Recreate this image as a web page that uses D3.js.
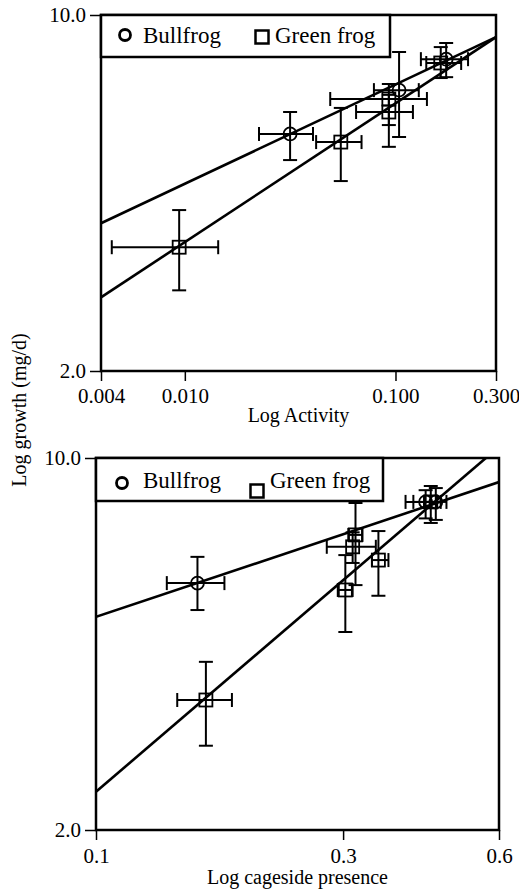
<!DOCTYPE html>
<html>
<head>
<meta charset="utf-8">
<script src="https://cdn.jsdelivr.net/npm/d3@7"></script>
<style>
  body { margin: 0; background: #fff; }
  svg text { font-family: "Liberation Serif", "Times New Roman", Times, serif; fill: #000; }
</style>
</head>
<body>
<svg></svg>
<script>
const width = 519,
  height = 892;

// Activity panel (top): mean with low/high error limits
const activityBullfrog = [
  { x: 0.0316, xlo: 0.0225, xhi: 0.0406, y: 5.84, ylo: 5.19, yhi: 6.45 },
  { x: 0.104, xlo: 0.079, xhi: 0.129, y: 7.12, ylo: 5.76, yhi: 8.46 },
  { x: 0.174, xlo: 0.132, xhi: 0.221, y: 8.19, ylo: 7.55, yhi: 8.81 }
];
const activityGreenfrog = [
  { x: 0.0094, xlo: 0.0045, xhi: 0.0144, y: 3.50, ylo: 2.88, yhi: 4.14 },
  { x: 0.055, xlo: 0.042, xhi: 0.069, y: 5.63, ylo: 4.72, yhi: 6.57 },
  { x: 0.093, xlo: 0.049, xhi: 0.141, y: 6.84, ylo: 6.08, yhi: 7.32 },
  { x: 0.093, xlo: 0.065, xhi: 0.121, y: 6.45, ylo: 5.51, yhi: 6.97 },
  { x: 0.164, xlo: 0.140, xhi: 0.205, y: 8.05, ylo: 7.52, yhi: 8.65 }
];
// fitted lines, as end points
const activityBullfrogFit = [[0.004, 3.90], [0.3, 9.05]];
const activityGreenfrogFit = [[0.004, 2.79], [0.3, 9.05]];

// Cageside presence panel (bottom)
const cagesideBullfrog = [
  { x: 0.157, xlo: 0.137, xhi: 0.177, y: 5.82, ylo: 5.18, yhi: 6.52 },
  { x: 0.433, xlo: 0.410, xhi: 0.455, y: 8.27, ylo: 7.70, yhi: 8.70 },
  { x: 0.453, xlo: 0.430, xhi: 0.475, y: 8.27, ylo: 7.65, yhi: 8.78 }
];
const cagesideGreenfrog = [
  { x: 0.163, xlo: 0.1435, xhi: 0.183, y: 3.51, ylo: 2.88, yhi: 4.14 },
  { x: 0.303, xlo: 0.293, xhi: 0.313, y: 5.65, ylo: 4.71, yhi: 6.57 },
  { x: 0.317, xlo: 0.307, xhi: 0.327, y: 7.17, ylo: 5.77, yhi: 8.23 },
  { x: 0.313, xlo: 0.279, xhi: 0.347, y: 6.81, ylo: 6.35, yhi: 7.25 },
  { x: 0.351, xlo: 0.341, xhi: 0.367, y: 6.43, ylo: 5.51, yhi: 7.29 },
  { x: 0.443, xlo: 0.396, xhi: 0.463, y: 8.27, ylo: 7.55, yhi: 8.86 }
];
const cagesideBullfrogFit = [[0.1, 5.03], [0.6, 9.01]];
const cagesideGreenfrogFit = [[0.1, 2.36], [0.566, 10.0]];

// axis ticks
const activityTicks = [0.004, 0.01, 0.1, 0.3];
const cagesideTicks = [0.1, 0.3, 0.6];
const growthTicks = [2, 10];

const serif = "'Liberation Serif', 'Times New Roman', serif";

const svg = d3.select("svg")
  .attr("width", width)
  .attr("height", height);

const panels = [
  {
    left: 101, right: 496, top: 15, bottom: 371,
    xDomain: [0.004, 0.3], xTicks: activityTicks, xFormat: d3.format(".3f"),
    xLabel: "Log Activity", xLabelY: 422, tickLabelY: 403,
    bull: activityBullfrog, green: activityGreenfrog,
    bullFit: activityBullfrogFit, greenFit: activityGreenfrogFit,
    legend: { w: 289, h: 42, cx: 24, cy: 20, tx: 42, ty: 28, sx: 161, sy: 22 }
  },
  {
    left: 96, right: 499, top: 458, bottom: 830,
    xDomain: [0.1, 0.6], xTicks: cagesideTicks, xFormat: d3.format(".1f"),
    xLabel: "Log cageside presence", xLabelY: 884, tickLabelY: 863,
    bull: cagesideBullfrog, green: cagesideGreenfrog,
    bullFit: cagesideBullfrogFit, greenFit: cagesideGreenfrogFit,
    legend: { w: 287, h: 43, cx: 26, cy: 25, tx: 47, ty: 30, sx: 161, sy: 33 }
  }
];

panels.forEach((p, pi) => {
  const x = d3.scaleLog().domain(p.xDomain).range([p.left, p.right]);
  const y = d3.scaleLog().domain([2, 10]).range([p.bottom, p.top]);

  const g = svg.append("g");

  // clip for the fitted lines
  const clipId = "clip" + pi;
  svg.append("clipPath").attr("id", clipId)
    .append("rect")
    .attr("x", p.left).attr("y", p.top)
    .attr("width", p.right - p.left).attr("height", p.bottom - p.top);

  // x axis
  const xAxis = g.append("g")
    .attr("transform", "translate(0," + p.bottom + ")")
    .call(d3.axisBottom(x).tickValues(p.xTicks).tickFormat(p.xFormat).tickSize(10).tickPadding(6));
  xAxis.attr("font-family", null);
  xAxis.select(".domain").remove();
  xAxis.selectAll("line").attr("stroke", "#000").attr("stroke-width", 1.5);
  xAxis.selectAll("text")
    .attr("y", null).attr("dy", null)
    .attr("transform", "translate(0," + (p.tickLabelY - p.bottom) + ")")
    .style("font-size", "21px")
    .style("font-family", serif);

  // y axis
  const yAxis = g.append("g")
    .attr("transform", "translate(" + p.left + ",0)")
    .call(d3.axisLeft(y).tickValues(growthTicks).tickFormat(d3.format(".1f")).tickSize(11).tickPadding(4));
  yAxis.attr("font-family", null);
  yAxis.select(".domain").remove();
  yAxis.selectAll("line").attr("stroke", "#000").attr("stroke-width", 1.5);
  yAxis.selectAll("text")
    .style("font-size", "21px")
    .style("font-family", serif);

  // frame
  g.append("rect")
    .attr("x", p.left).attr("y", p.top)
    .attr("width", p.right - p.left).attr("height", p.bottom - p.top)
    .attr("fill", "none").attr("stroke", "#000").attr("stroke-width", 2.5);

  g.append("text")
    .attr("x", (p.left + p.right) / 2)
    .attr("y", p.xLabelY)
    .attr("text-anchor", "middle")
    .style("font-size", "20px")
    .style("font-family", serif)
    .text(p.xLabel);

  // error bars
  const cap = 7;
  const errs = g.append("g").attr("stroke", "#000").attr("stroke-width", 2).attr("fill", "none");
  p.bull.concat(p.green).forEach(d => {
    const cx = x(d.x), cy = y(d.y);
    errs.append("line").attr("x1", x(d.xlo)).attr("x2", x(d.xhi)).attr("y1", cy).attr("y2", cy);
    errs.append("line").attr("x1", x(d.xlo)).attr("x2", x(d.xlo)).attr("y1", cy - cap).attr("y2", cy + cap);
    errs.append("line").attr("x1", x(d.xhi)).attr("x2", x(d.xhi)).attr("y1", cy - cap).attr("y2", cy + cap);
    errs.append("line").attr("x1", cx).attr("x2", cx).attr("y1", y(d.ylo)).attr("y2", y(d.yhi));
    errs.append("line").attr("x1", cx - cap).attr("x2", cx + cap).attr("y1", y(d.ylo)).attr("y2", y(d.ylo));
    errs.append("line").attr("x1", cx - cap).attr("x2", cx + cap).attr("y1", y(d.yhi)).attr("y2", y(d.yhi));
  });

  // fitted lines
  const line = d3.line().x(d => x(d[0])).y(d => y(d[1]));
  [p.bullFit, p.greenFit].forEach(fit => {
    g.append("path")
      .attr("d", line(fit))
      .attr("clip-path", "url(#" + clipId + ")")
      .attr("fill", "none").attr("stroke", "#000").attr("stroke-width", 2.6);
  });

  // markers
  g.selectAll(null).data(p.bull).enter().append("circle")
    .attr("cx", d => x(d.x)).attr("cy", d => y(d.y)).attr("r", 6.5)
    .attr("fill", "none").attr("stroke", "#000").attr("stroke-width", 1.8);
  g.selectAll(null).data(p.green).enter().append("rect")
    .attr("x", d => x(d.x) - 6.5).attr("y", d => y(d.y) - 6.5)
    .attr("width", 13).attr("height", 13)
    .attr("fill", "none").attr("stroke", "#000").attr("stroke-width", 1.8);

  // legend
  const L = p.legend;
  const lg = g.append("g").attr("transform", "translate(" + p.left + "," + p.top + ")");
  lg.append("rect").attr("width", L.w).attr("height", L.h)
    .attr("fill", "#fff").attr("stroke", "#000").attr("stroke-width", 2.5);
  lg.append("circle").attr("cx", L.cx).attr("cy", L.cy).attr("r", 5.5)
    .attr("fill", "none").attr("stroke", "#000").attr("stroke-width", 2.8);
  lg.append("text").attr("x", L.tx).attr("y", L.ty)
    .style("font-size", "23px").style("font-family", serif).text("Bullfrog");
  lg.append("rect").attr("x", L.sx - 6.5).attr("y", L.sy - 6.5).attr("width", 13).attr("height", 13)
    .attr("fill", "none").attr("stroke", "#000").attr("stroke-width", 2.5);
  lg.append("text").attr("x", L.sx + 13).attr("y", L.ty)
    .style("font-size", "23px").style("font-family", serif).text("Green frog");
});

// shared y label
svg.append("text")
  .attr("transform", "translate(26,410) rotate(-90)")
  .attr("text-anchor", "middle")
  .style("font-size", "20px")
  .style("font-family", serif)
  .text("Log growth (mg/d)");
</script>
</body>
</html>
